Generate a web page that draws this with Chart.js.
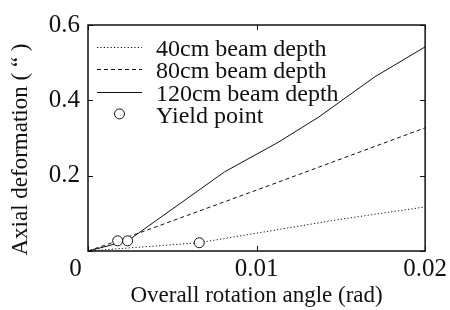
<!DOCTYPE html>
<html>
<head>
<meta charset="utf-8">
<script src="https://cdn.jsdelivr.net/npm/chart.js@4/dist/chart.umd.min.js"></script>
<style>
  html, body { margin: 0; padding: 0; background: #fff; }
  #wrap { width: 450px; height: 310px; position: relative; }
</style>
</head>
<body>
<div id="wrap"><canvas id="c"></canvas></div>
<script>
// ---- data ----
const rot40 = [0, 0.0066, 0.0148, 0.02];
const def40 = [0, 0.022, 0.083, 0.117];
const rot80 = [0, 0.00176, 0.0113, 0.02];
const def80 = [0, 0.027, 0.183, 0.327];
const rot120 = [0, 0.00235, 0.0081, 0.0113, 0.0137, 0.017, 0.02];
const def120 = [0, 0.027, 0.21, 0.289, 0.356, 0.462, 0.542];
const yieldRot = [0.00176, 0.00235, 0.0066];
const yieldDef = [0.027, 0.027, 0.022];

const seriesLabels = ['40cm beam depth', '80cm beam depth', '120cm beam depth', 'Yield point'];
const xTicks = [0, 0.01, 0.02];
const xTickLabels = ['0    ', '0.01', '0.02'];
const yTicks = [0, 0.2, 0.4, 0.6];
const yTickLabels = ['', '0.2', '0.4', '0.6'];
const xTitle = 'Overall rotation angle (rad)';
const yTitle = 'Axial deformation ( \u201C )    ';

const FONT = '"Liberation Serif", "Times New Roman", serif';
const pts = (xs, ys) => xs.map((x, i) => ({ x: x, y: ys[i] }));

const framePlugin = {
  id: 'frame',
  afterDraw(chart) {
    const { ctx, chartArea: a, scales } = chart;
    ctx.save();
    ctx.strokeStyle = '#111';
    ctx.lineWidth = 1.5;
    ctx.strokeRect(a.left, a.top, a.right - a.left, a.bottom - a.top);
    ctx.lineWidth = 1;
    const tl = 5;
    ctx.beginPath();
    xTicks.forEach(v => {
      const px = Math.round(scales.x.getPixelForValue(v)) + 0.5;
      ctx.moveTo(px, a.bottom); ctx.lineTo(px, a.bottom - tl);
      ctx.moveTo(px, a.top); ctx.lineTo(px, a.top + tl);
    });
    yTicks.forEach(v => {
      const py = Math.round(scales.y.getPixelForValue(v)) + 0.5;
      ctx.moveTo(a.left, py); ctx.lineTo(a.left + tl, py);
      ctx.moveTo(a.right, py); ctx.lineTo(a.right - tl, py);
    });
    ctx.stroke();
    ctx.restore();
  }
};

const legendPlugin = {
  id: 'innerLegend',
  afterDraw(chart) {
    const { ctx, chartArea: a } = chart;
    const ds = chart.data.datasets;
    ctx.save();
    ctx.font = '24px ' + FONT;
    ctx.fillStyle = '#111';
    ctx.textBaseline = 'alphabetic';
    ctx.textAlign = 'left';
    const x0 = a.left + 9, x1 = a.left + 54, tx = a.left + 68;
    ds.forEach((d, i) => {
      const ly = a.top + 21.7 + 22.4 * i;
      if (d.type === 'scatter') {
        ctx.beginPath();
        ctx.setLineDash([]);
        ctx.lineWidth = 1;
        ctx.strokeStyle = '#111';
        ctx.fillStyle = '#fff';
        ctx.arc((x0 + x1) / 2, ly, 5, 0, Math.PI * 2);
        ctx.fill(); ctx.stroke();
        ctx.fillStyle = '#111';
      } else {
        ctx.beginPath();
        ctx.setLineDash(d.borderDash || []);
        ctx.lineWidth = d.borderWidth;
        ctx.strokeStyle = d.borderColor;
        ctx.moveTo(x0, Math.round(ly) + 0.5); ctx.lineTo(x1, Math.round(ly) + 0.5);
        ctx.stroke();
      }
      ctx.setLineDash([]);
      ctx.fillText(d.label, tx, ly + 9);
    });
    ctx.restore();
  }
};

new Chart(document.getElementById('c'), {
  data: {
    datasets: [
      { type: 'line', label: seriesLabels[0], data: pts(rot40, def40), borderColor: '#111', borderWidth: 1, borderDash: [1.2, 2.2], pointRadius: 0, tension: 0, fill: false, order: 1 },
      { type: 'line', label: seriesLabels[1], data: pts(rot80, def80), borderColor: '#111', borderWidth: 1, borderDash: [4, 3], pointRadius: 0, tension: 0, fill: false, order: 1 },
      { type: 'line', label: seriesLabels[2], data: pts(rot120, def120), borderColor: '#111', borderWidth: 1, pointRadius: 0, tension: 0, fill: false, order: 1 },
      { type: 'scatter', label: seriesLabels[3], data: pts(yieldRot, yieldDef), pointRadius: 5, pointBorderWidth: 1, pointBackgroundColor: '#fff', pointBorderColor: '#111', order: 0 }
    ]
  },
  options: {
    responsive: true,
    maintainAspectRatio: false,
    animation: false,
    layout: { padding: { top: 25, right: 22, bottom: 0, left: 0 } },
    plugins: { legend: { display: false }, tooltip: { enabled: false } },
    scales: {
      x: {
        type: 'linear', min: 0, max: 0.02,
        afterBuildTicks: s => { s.ticks = xTicks.map(v => ({ value: v })); },
        afterFit: s => { s.height = 59; },
        grid: { display: false, drawTicks: false },
        border: { display: false },
        ticks: {
          autoSkip: false, maxRotation: 0, padding: 3, color: '#111',
          font: { family: FONT, size: 25 },
          callback: (v) => { const i = xTicks.indexOf(v); return i >= 0 ? xTickLabels[i] : ''; }
        },
        title: { display: true, text: xTitle, color: '#111', font: { family: FONT, size: 23 }, padding: { top: 0, bottom: 0 } }
      },
      y: {
        type: 'linear', min: 0, max: 0.6,
        afterBuildTicks: s => { s.ticks = yTicks.map(v => ({ value: v })); },
        afterFit: s => { s.width = 88; },
        grid: { display: false, drawTicks: false },
        border: { display: false },
        ticks: {
          autoSkip: false, padding: 8, color: '#111',
          font: { family: FONT, size: 25 },
          callback: (v) => { const i = yTicks.indexOf(v); return i >= 0 ? yTickLabels[i] : ''; }
        },
        title: { display: true, text: yTitle, color: '#111', font: { family: FONT, size: 23 }, padding: { top: 7, bottom: 0 } }
      }
    }
  },
  plugins: [framePlugin, legendPlugin]
});
</script>
</body>
</html>
